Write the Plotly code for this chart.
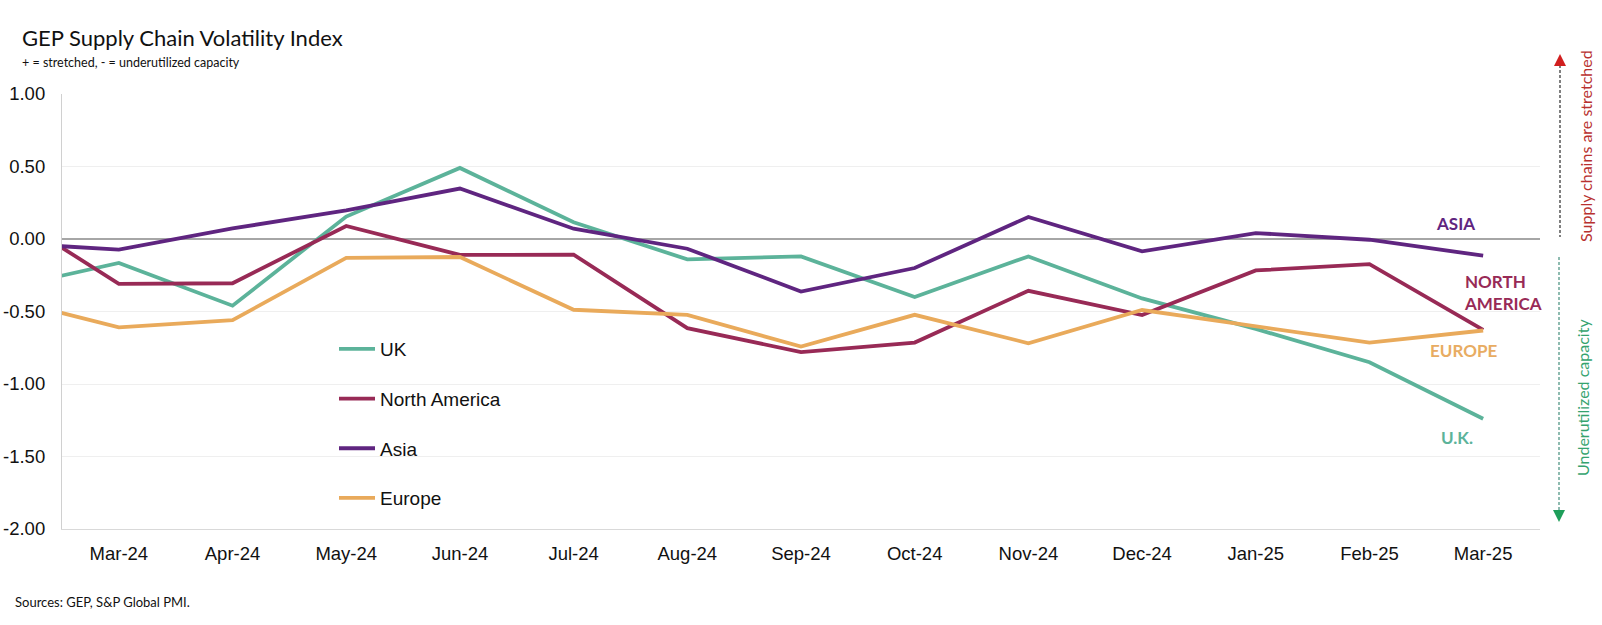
import plotly.graph_objects as go

# ---- data ----
months = ["Feb-24", "Mar-24", "Apr-24", "May-24", "Jun-24", "Jul-24", "Aug-24", "Sep-24",
          "Oct-24", "Nov-24", "Dec-24", "Jan-25", "Feb-25", "Mar-25"]
uk = [-0.34, -0.165, -0.46, 0.155, 0.49, 0.115, -0.14, -0.12, -0.40, -0.12, -0.41, -0.62, -0.85, -1.24]
north_america = [0.19, -0.31, -0.305, 0.09, -0.11, -0.108, -0.615, -0.78, -0.714, -0.357, -0.525, -0.217, -0.173, -0.627]
asia = [-0.027, -0.073, 0.073, 0.197, 0.348, 0.071, -0.067, -0.362, -0.20, 0.152, -0.085, 0.041, -0.005, -0.115]
europe = [-0.41, -0.61, -0.56, -0.13, -0.124, -0.488, -0.523, -0.742, -0.523, -0.719, -0.49, -0.60, -0.714, -0.631]
ytick_vals = [1.0, 0.5, 0.0, -0.5, -1.0, -1.5, -2.0]
ytick_text = ["1.00", "0.50", "0.00", "-0.50", "-1.00", "-1.50", "-2.00"]

series = [("UK", uk, "#5cb39a"), ("North America", north_america, "#982a56"),
          ("Asia", asia, "#5f2580"), ("Europe", europe, "#e9aa5b")]

W, H = 1602, 625
L, R, T, B = 62, 62, 94, 96
PW, PH = W - L - R, H - T - B


def px(x):
    return (x - L) / PW


def py(y):
    return (H - B - y) / PH


fig = go.Figure()
for i, (name, vals, col) in enumerate(series):
    fig.add_trace(go.Scatter(x=months, y=vals, name=name, mode="lines",
                             line=dict(color=col, width=3.8), legendgroup=str(i)))

annos = [
    dict(text="GEP Supply Chain Volatility Index", x=px(20), y=py(38), xanchor="left", yanchor="middle",
         font=dict(family="Lato", size=22, color="#111")),
    dict(text="+ = stretched, - = underutilized capacity", x=px(20), y=py(63), xanchor="left", yanchor="middle",
         font=dict(family="Lato", size=12.5, color="#111")),
    dict(text="Sources: GEP, S&P Global PMI.", x=px(13), y=py(602), xanchor="left", yanchor="middle",
         font=dict(family="Lato", size=13, color="#111")),
    dict(text="<b>ASIA</b>", x=px(1455), y=py(223), xanchor="center", yanchor="middle",
         font=dict(family="Lato", size=17, color="#5f2580")),
    dict(text="<b>NORTH<br>AMERICA</b>", x=px(1462), y=py(292), xanchor="left", yanchor="middle", align="left",
         font=dict(family="Lato", size=17, color="#982a56")),
    dict(text="<b>EUROPE</b>", x=px(1463), y=py(350), xanchor="center", yanchor="middle",
         font=dict(family="Lato", size=17, color="#e8ac62")),
    dict(text="<b>U.K.</b>", x=px(1457), y=py(437), xanchor="center", yanchor="middle",
         font=dict(family="Lato", size=17, color="#5cb39a")),
    dict(text="Supply chains are stretched", x=px(1585), y=py(146), textangle=-90, xanchor="center",
         yanchor="middle", font=dict(family="Lato", size=16, color="#b8312f")),
    dict(text="Underutilized capacity", x=px(1582), y=py(397), textangle=-90, xanchor="center",
         yanchor="middle", font=dict(family="Lato", size=16, color="#35a36e")),
]
for a in annos:
    a.update(xref="paper", yref="paper", showarrow=False)

shapes = [
    dict(type="line", x0=px(1560), x1=px(1560), y0=py(65), y1=py(237),
         line=dict(color="#555555", width=1.5, dash="3px,2px")),
    dict(type="path", path=f"M{px(1554)},{py(66)} L{px(1566)},{py(66)} L{px(1560)},{py(54)} Z",
         fillcolor="#d11f1f", line=dict(width=0)),
    dict(type="line", x0=px(1559), x1=px(1559), y0=py(257), y1=py(511),
         line=dict(color="#6aa597", width=1.5, dash="3px,2px")),
    dict(type="path", path=f"M{px(1553)},{py(510)} L{px(1565)},{py(510)} L{px(1559)},{py(522)} Z",
         fillcolor="#1e9e5a", line=dict(width=0)),
]
for s in shapes:
    s.update(xref="paper", yref="paper")

fig.update_layout(
    width=W, height=H,
    margin=dict(l=L, r=R, t=T, b=B, autoexpand=False),
    paper_bgcolor="white", plot_bgcolor="white",
    annotations=annos, shapes=shapes,
    showlegend=True,
    legend=dict(x=px(334), y=py(330), xanchor="left", yanchor="top", bgcolor="rgba(0,0,0,0)",
                font=dict(family="Liberation Sans, Arial", size=19, color="#111"),
                tracegroupgap=22, itemwidth=36),
    xaxis=dict(type="category", range=[0.5, 13.5], showgrid=False, zeroline=False, automargin=False,
               showline=True, linecolor="#d9d9d9", linewidth=1.2, ticks="",
               tickfont=dict(family="Liberation Sans, Arial", size=18.5, color="#111"),
               ticklabelstandoff=8),
    yaxis=dict(range=[-2, 1], tickvals=ytick_vals, ticktext=ytick_text, showgrid=True, automargin=False,
               gridcolor="#efefef", gridwidth=1, zeroline=True, zerolinecolor="#a6a6a6",
               zerolinewidth=1.5, showline=True, linecolor="#d0d0d0", linewidth=1.2, ticks="",
               tickfont=dict(family="Liberation Sans, Arial", size=18.5, color="#111"),
               ticklabelstandoff=12),
)

fig.write_html("out.html", config={"displayModeBar": False},
               post_script="document.body.style.margin='0';document.body.style.overflow='hidden';")
